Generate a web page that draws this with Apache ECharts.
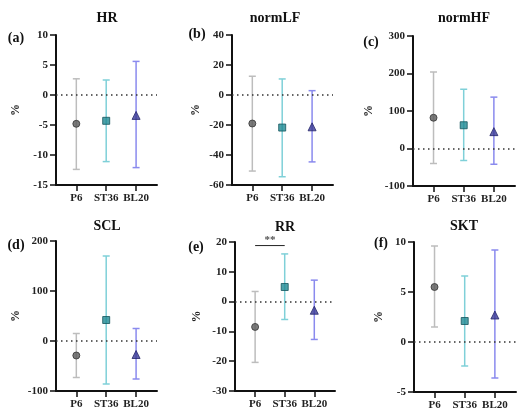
<!DOCTYPE html>
<html lang="en">
<head>
    <meta charset="utf-8">
    <title>Change of physiological indices</title>
    <script src="https://cdn.jsdelivr.net/npm/echarts@6.0.0/dist/echarts.min.js"></script>
    <style>
        html, body { margin: 0; padding: 0; background: #fff; }
        #chart { width: 523px; height: 412px; }
    </style>
</head>
<body>
    <div id="chart"></div>
    <script>
        // categories and panel texts
        const categories = ['P6', 'ST36', 'BL20'];
        const panelTitles = ['HR', 'normLF', 'normHF', 'SCL', 'RR', 'SKT'];
        const panelLetters = ['(a)', '(b)', '(c)', '(d)', '(e)', '(f)'];

        // mean and error bar ends, per panel (P6, ST36, BL20)
        const hrMean = [-4.8, -4.3, -3.4];
        const hrUpper = [2.7, 2.5, 5.6];
        const hrLower = [-12.4, -11.1, -12.1];

        const lfMean = [-19, -21.7, -21.2];
        const lfUpper = [12.5, 10.7, 2.9];
        const lfLower = [-50.7, -54.5, -44.6];

        const hfMean = [82, 62, 45];
        const hfUpper = [204, 158, 137];
        const hfLower = [-40, -32, -42];

        const sclMean = [-29, 42, -27];
        const sclUpper = [15, 170, 25];
        const sclLower = [-73, -86, -76];

        const rrMean = [-8.5, 4.9, -2.9];
        const rrUpper = [3.4, 16, 7.2];
        const rrLower = [-20.4, -6, -12.7];

        const sktMean = [5.5, 2.1, 2.7];
        const sktUpper = [9.6, 6.6, 9.2];
        const sktLower = [1.5, -2.4, -3.6];

        // y axis ticks: [min, max, interval]
        const yTicks = [[-15, 10, 5], [-60, 40, 20], [-100, 300, 100], [-100, 200, 100], [-30, 20, 10], [-5, 10, 5]];

        // significance bracket in RR panel
        const sigFrom = 1, sigTo = 2, sigLevel = 18.8, sigText = '**';

        const means = [hrMean, lfMean, hfMean, sclMean, rrMean, sktMean];
        const uppers = [hrUpper, lfUpper, hfUpper, sclUpper, rrUpper, sktUpper];
        const lowers = [hrLower, lfLower, hfLower, sclLower, rrLower, sktLower];

        // layout
        const grids = [
            { left: 56, top: 35, width: 101, height: 150 },
            { left: 232, top: 35, width: 101, height: 150 },
            { left: 413, top: 36, width: 102, height: 150 },
            { left: 56, top: 241, width: 101, height: 150 },
            { left: 235, top: 242, width: 100, height: 149 },
            { left: 414, top: 242, width: 102, height: 150 }
        ];
        const titlePos = [[107, 18], [275, 18], [464, 18], [107, 226], [285, 227], [464, 226]];
        const letterPos = [[16, 38], [197, 34], [371, 42], [16, 245], [196, 247], [381, 243]];
        const nameGaps = [34, 30, 38, 34, 32, 29];

        const font = "'Liberation Serif', 'Times New Roman', serif";
        const barColors = ['#bdbdbd', '#7fd0d8', '#8a8aee'];
        const markColors = ['#5a5a5a', '#1f8a94', '#3a3a96'];
        const markBorders = ['#333', '#14555c', '#25256a'];
        const markSymbols = ['circle', 'rect', 'triangle'];
        const markSizes = [7, 7, 8];

        const chart = echarts.init(document.getElementById('chart'));

        const option = {
            animation: false,
            grid: [], xAxis: [], yAxis: [], series: [], graphic: []
        };

        for (let i = 0; i < 6; i++) {
            option.grid.push(Object.assign({ containLabel: false }, grids[i]));

            option.xAxis.push({
                type: 'value',
                gridIndex: i,
                min: 0.32,
                max: 3.7,
                splitLine: { show: false },
                axisLine: { show: true, onZero: false, lineStyle: { color: '#111', width: 2 } },
                axisTick: { show: true, customValues: [1, 2, 3], length: 6, lineStyle: { color: '#111', width: 1.5 } },
                axisLabel: {
                    customValues: [1, 2, 3],
                    margin: 8,
                    fontFamily: font, fontWeight: 'bold', fontSize: 11, color: '#222',
                    formatter: v => categories[Math.round(v) - 1]
                }
            });

            option.yAxis.push({
                type: 'value',
                gridIndex: i,
                min: yTicks[i][0],
                max: yTicks[i][1],
                interval: yTicks[i][2],
                name: '%',
                nameLocation: 'middle',
                nameRotate: 90,
                nameGap: nameGaps[i],
                nameTextStyle: { fontFamily: font, fontWeight: 'bold', fontSize: 12, color: '#222' },
                splitLine: { show: false },
                axisLine: { show: true, onZero: false, lineStyle: { color: '#111', width: 2 } },
                axisTick: { show: true, length: 6, lineStyle: { color: '#111', width: 1.5 } },
                axisLabel: { margin: 8, fontFamily: font, fontWeight: 'bold', fontSize: 11, color: '#222' }
            });

            const barData = categories.map((c, k) => [k + 1, lowers[i][k], uppers[i][k]]);
            option.series.push({
                type: 'custom',
                xAxisIndex: i,
                yAxisIndex: i,
                z: 2,
                data: barData,
                renderItem: function (params, api) {
                    const x = api.value(0);
                    const lo = api.coord([x, api.value(1)]);
                    const hi = api.coord([x, api.value(2)]);
                    const style = { stroke: barColors[params.dataIndex], lineWidth: 1.5 };
                    const cap = 3.5;
                    return {
                        type: 'group',
                        children: [
                            { type: 'line', shape: { x1: lo[0], y1: lo[1], x2: hi[0], y2: hi[1] }, style: style },
                            { type: 'line', shape: { x1: hi[0] - cap, y1: hi[1], x2: hi[0] + cap, y2: hi[1] }, style: style },
                            { type: 'line', shape: { x1: lo[0] - cap, y1: lo[1], x2: lo[0] + cap, y2: lo[1] }, style: style }
                        ]
                    };
                },
                markLine: {
                    silent: true,
                    symbol: 'none',
                    label: { show: false },
                    lineStyle: { color: '#333', width: 1.5, type: [1.5, 3.5] },
                    data: [{ yAxis: 0 }]
                }
            });

            option.series.push({
                type: 'scatter',
                xAxisIndex: i,
                yAxisIndex: i,
                z: 3,
                data: categories.map((c, k) => ({
                    value: [k + 1, means[i][k]],
                    symbol: markSymbols[k],
                    symbolSize: markSizes[k],
                    itemStyle: { color: markColors[k], borderColor: markBorders[k], borderWidth: 1 }
                }))
            });

            option.graphic.push({
                type: 'text',
                x: titlePos[i][0], y: titlePos[i][1],
                style: {
                    text: panelTitles[i], fontFamily: font, fontWeight: 'bold', fontSize: 14,
                    fill: '#111', align: 'center', verticalAlign: 'middle'
                }
            });
            option.graphic.push({
                type: 'text',
                x: letterPos[i][0], y: letterPos[i][1],
                style: {
                    text: panelLetters[i], fontFamily: font, fontWeight: 'bold', fontSize: 14,
                    fill: '#111', align: 'center', verticalAlign: 'middle'
                }
            });
        }

        // significance bracket for RR
        option.series.push({
            type: 'line',
            xAxisIndex: 4,
            yAxisIndex: 4,
            symbol: 'none',
            lineStyle: { color: '#222', width: 1 },
            data: [[sigFrom, sigLevel], [sigTo, sigLevel]]
        });
        option.series.push({
            type: 'scatter',
            xAxisIndex: 4,
            yAxisIndex: 4,
            symbolSize: 0,
            label: {
                show: true, position: 'top', distance: 0,
                formatter: sigText,
                fontFamily: font, fontWeight: 'bold', fontSize: 11, color: '#222'
            },
            data: [[(sigFrom + sigTo) / 2, sigLevel]]
        });

        chart.setOption(option);
    </script>
</body>
</html>
